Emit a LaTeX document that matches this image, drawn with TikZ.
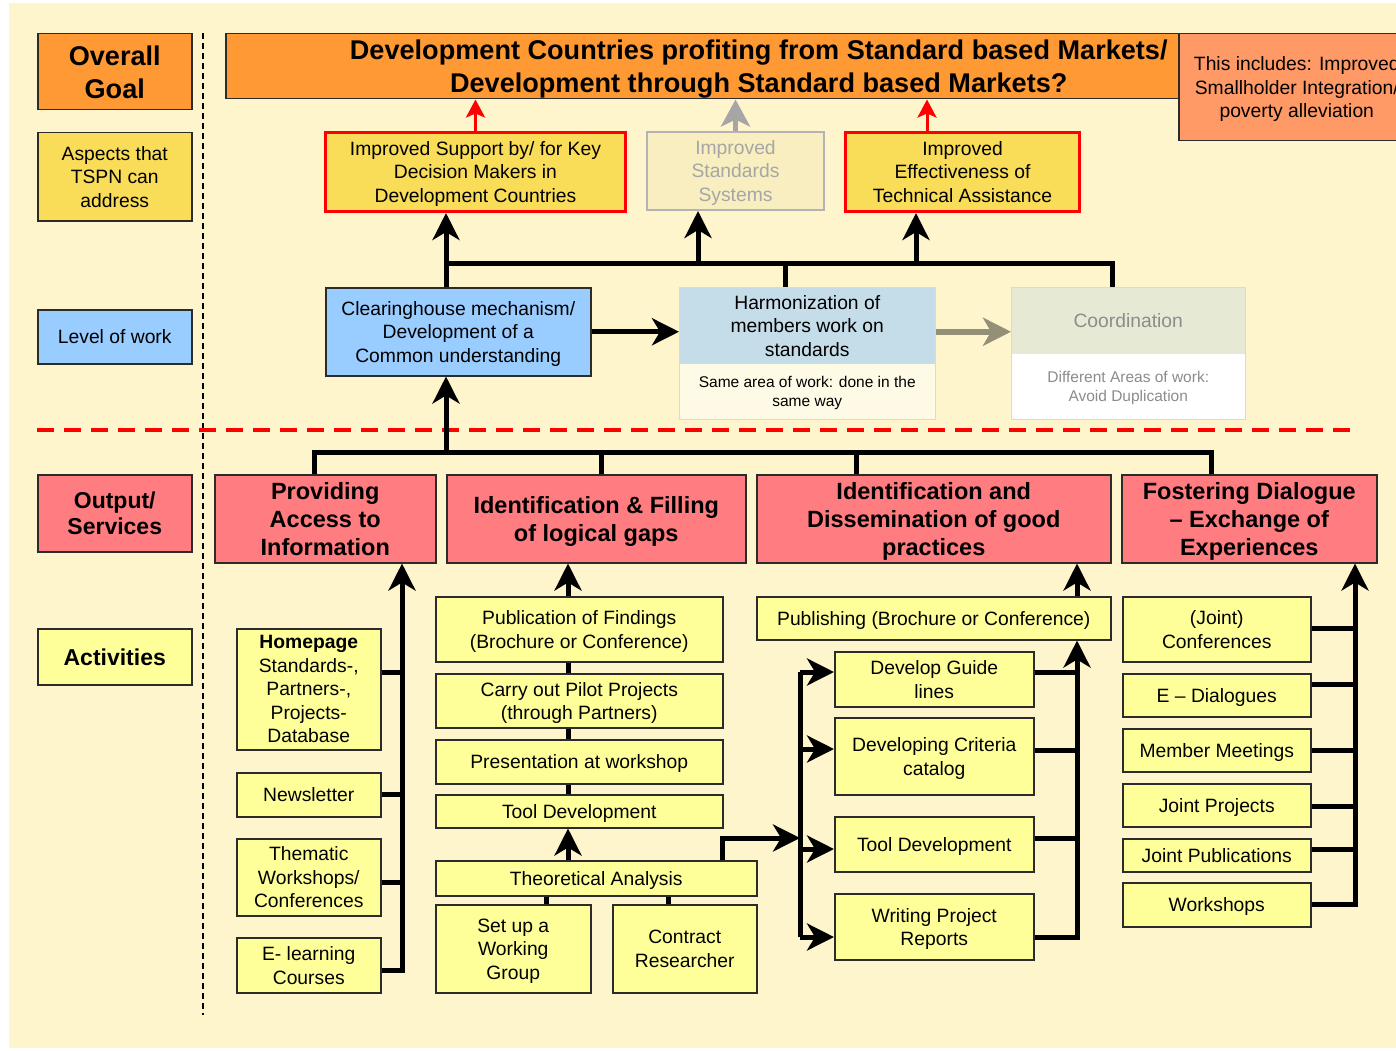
\documentclass[tikz,border=0pt]{standalone}
\usepackage{fontspec}
\setmainfont{Liberation Sans}
\usetikzlibrary{arrows.meta}
\definecolor{cBg}{HTML}{FEF5CD}
\definecolor{cOrange}{HTML}{FF9933}
\definecolor{cGold}{HTML}{F9DD59}
\definecolor{cBlue}{HTML}{99CCFF}
\definecolor{cPink}{HTML}{FF7C80}
\definecolor{cAct}{HTML}{FFFF99}
\definecolor{cSalmon}{HTML}{FF9966}
\definecolor{cPale}{HTML}{F8EEC0}
\definecolor{cPaleLine}{HTML}{B3B3B3}
\definecolor{cPaleText}{HTML}{A6A6A6}
\definecolor{cHarmTop}{HTML}{C5DDE9}
\definecolor{cHarmBot}{HTML}{FFFAE6}
\definecolor{cCoordTop}{HTML}{E6EAD5}
\definecolor{cCoordText}{HTML}{8C8C8C}
\definecolor{cOlive}{HTML}{949078}
\definecolor{cLine}{HTML}{2B2B2B}
\definecolor{cLight}{HTML}{DADADA}
\newcommand\fnorm{\fontsize{19.3}{23.5}\selectfont}
\newcommand\fsmall{\fontsize{15.5}{19}\selectfont}
\newcommand\fout{\fontsize{23.5}{28}\selectfont\bfseries}
\newcommand\fgoal{\fontsize{27.1}{33}\selectfont\bfseries}
\newcommand\flab{\fontsize{23}{26}\selectfont\bfseries}
\begin{document}
\begin{tikzpicture}[x=1pt,y=-1pt,
  box/.style={draw=cLine, line width=1.5pt, inner sep=0pt, align=center, anchor=north west, font=\fnorm, text=black, text depth=0pt},
  act/.style={box, fill=cAct},
  outb/.style={box, fill=cPink, font=\fout},
  aspbox/.style={box, fill=cGold, draw=red, line width=3pt},
  conn/.style={line width=5pt, black},
  arr/.style={-{Stealth[length=27pt,width=27pt,inset=8pt]}},
  redarr/.style={red, line width=3pt, -{Stealth[length=18pt,width=19pt,inset=4pt]}},
  grayarr/.style={cPaleText, line width=5pt, -{Stealth[length=27pt,width=29pt,inset=7pt]}},
  olivearr/.style={cOlive, line width=6pt, -{Stealth[length=28pt,width=28pt,inset=8pt]}},
]
\useasboundingbox (0,0) rectangle (1396,1051);
\begin{scope}
\clip (0,0) rectangle (1396,1051);
\fill[white] (0,0) rectangle (1396,1051);
\fill[cBg] (9,3) rectangle (1396,1048);

% separators
\draw[black, line width=1.2pt, dash pattern=on 6pt off 4pt] (203,33) -- (203,1015);
\draw[red, line width=4pt, dash pattern=on 17pt off 10pt] (37,430) -- (1355,430);

% left labels
\node[box, fill=cOrange, font=\fgoal, minimum width=154pt, minimum height=76pt] (lgoal) at (37,33) {Overall\\Goal};
\node[box, fill=cGold, minimum width=154pt, minimum height=88pt] (lasp) at (37,132) {Aspects that\\TSPN can\\address};
\node[box, fill=cBlue, minimum width=154pt, minimum height=54pt] (llevel) at (37,309) {Level of work};
\node[box, fill=cPink, font=\flab, minimum width=154pt, minimum height=77pt] (lout) at (37,474) {Output/\\Services};
\node[box, fill=cAct, font=\flab, minimum width=154pt, minimum height=56pt] (lact) at (37,628) {Activities};

% goal
\node[box, fill=cOrange, font=\fgoal, minimum width=1066pt, minimum height=65pt] (goal) at (225,33) {Development Countries profiting from Standard based Markets/\\Development through Standard based Markets?};
\node[box, fill=cSalmon, minimum width=236pt, minimum height=107pt] (incl) at (1178,33) {This includes: Improved\\Smallholder Integration/\\poverty alleviation};

% aspects
\node[aspbox, minimum width=300pt, minimum height=79pt] (aspA) at (324,131) {Improved Support by/ for Key\\Decision Makers in\\Development Countries};
\node[box, fill=cPale, draw=cPaleLine, line width=2pt, text=cPaleText, minimum width=177pt, minimum height=78pt] (aspB) at (646,131) {Improved\\Standards\\Systems};
\node[aspbox, minimum width=234pt, minimum height=79pt] (aspC) at (844,131) {Improved\\Effectiveness of\\Technical Assistance};

% level of work
\node[box, fill=cBlue, minimum width=265pt, minimum height=88pt] (clear) at (325,287) {Clearinghouse mechanism/\\Development of a\\Common understanding};
\node[box, draw=none, fill=cHarmTop, minimum width=255pt, minimum height=76pt] (harmt) at (679,287) {Harmonization of\\members work on\\standards};
\node[box, draw=none, fill=cHarmBot, font=\fsmall, minimum width=255pt, minimum height=55pt] (harmb) at (679,363) {Same area of work: done in the\\same way};
\draw[cLight, line width=1pt] (harmt.north west) rectangle (harmb.south east);
\node[box, draw=none, fill=cCoordTop, text=cCoordText, minimum width=233pt, minimum height=66pt] (coordt) at (1011,287) {Coordination};
\node[box, draw=none, fill=white, text=cCoordText, font=\fsmall, minimum width=233pt, minimum height=65pt] (coordb) at (1011,353) {Different Areas of work:\\Avoid Duplication};
\draw[cLight, line width=1pt] (coordt.north west) rectangle (coordb.south east);

% outputs
\node[outb, minimum width=221pt, minimum height=88pt] (prov) at (214,474) {Providing\\Access to\\Information};
\node[outb, minimum width=299pt, minimum height=88pt] (ident) at (446,474) {Identification \& Filling\\of logical gaps};
\node[outb, minimum width=354pt, minimum height=88pt] (dissem) at (756,474) {Identification and\\Dissemination of good\\practices};
\node[outb, minimum width=255pt, minimum height=88pt] (foster) at (1121,474) {Fostering Dialogue\\– Exchange of\\Experiences};

% activities column 1
\node[act, minimum width=144pt, minimum height=121pt] (home) at (236,628) {{\bfseries Homepage}\\Standards-,\\Partners-,\\Projects-\\Database};
\node[act, minimum width=144pt, minimum height=44pt] (news) at (236,772) {Newsletter};
\node[act, minimum width=144pt, minimum height=77pt] (thema) at (236,838) {Thematic\\Workshops/\\Conferences};
\node[act, minimum width=144pt, minimum height=55pt] (elearn) at (236,937) {E- learning\\Courses};

% activities column 2
\node[act, minimum width=287pt, minimum height=65pt] (pubf) at (435,596) {Publication of Findings\\(Brochure or Conference)};
\node[act, minimum width=287pt, minimum height=54pt] (carry) at (435,673) {Carry out Pilot Projects\\(through Partners)};
\node[act, minimum width=287pt, minimum height=44pt] (pres) at (435,739) {Presentation at workshop};
\node[act, minimum width=287pt, minimum height=33pt] (tooltwo) at (435,794) {Tool Development};
\node[act, minimum width=321pt, minimum height=35pt] (theo) at (435,860) {Theoretical Analysis};
\node[act, minimum width=155pt, minimum height=88pt] (setup) at (435,904) {Set up a\\Working\\Group};
\node[act, minimum width=144pt, minimum height=88pt] (contr) at (612,904) {Contract\\Researcher};

% activities column 3
\node[act, minimum width=354pt, minimum height=43pt] (publ) at (756,596) {Publishing (Brochure or Conference)};
\node[act, minimum width=199pt, minimum height=55pt] (guide) at (834,651) {Develop Guide\\lines};
\node[act, minimum width=199pt, minimum height=77pt] (crit) at (834,717) {Developing Criteria\\catalog};
\node[act, minimum width=199pt, minimum height=55pt] (toolthree) at (834,816) {Tool Development};
\node[act, minimum width=199pt, minimum height=66pt] (writ) at (834,893) {Writing Project\\Reports};

% activities column 4
\node[act, minimum width=188pt, minimum height=65pt] (jconf) at (1122,596) {(Joint)\\Conferences};
\node[act, minimum width=188pt, minimum height=43pt] (edia) at (1122,673) {E – Dialogues};
\node[act, minimum width=188pt, minimum height=43pt] (memb) at (1122,728) {Member Meetings};
\node[act, minimum width=188pt, minimum height=43pt] (jproj) at (1122,783) {Joint Projects};
\node[act, minimum width=188pt, minimum height=33pt] (jpub) at (1122,838) {Joint Publications};
\node[act, minimum width=188pt, minimum height=44pt] (wshop) at (1122,882) {Workshops};

% ---- connectors ----
% to goal
\coordinate (xc) at (927,0);
\draw[redarr] (aspA.north) -- (aspA.north |- goal.south);
\draw[grayarr] (aspB.north) -- (aspB.north |- goal.south);
\draw[redarr] (aspC.north -| xc) -- (goal.south -| xc);

% level to aspects
\coordinate (j1) at (446,263);
\coordinate (j2) at (698,263);
\coordinate (j3) at (916,263);
\coordinate (j4) at (785,263);
\coordinate (j5) at (1112,263);
\draw[conn] (j1) -- (j5) -- (j5 |- coordt.north);
\draw[conn] (j4) -- (j4 |- harmt.north);
\draw[conn, arr] (j1 |- clear.north) -- (j1 |- aspA.south);
\draw[conn, arr] (j2) -- (j2 |- aspB.south);
\draw[conn, arr] (j3) -- (j3 |- aspC.south);
\draw[conn, arr] (clear.east) -- (clear.east -| harmt.west);
\draw[olivearr] (harmt.east |- clear.east) -- (coordt.west |- clear.east);

% outputs to level
\coordinate (o0) at (446,452);
\coordinate (o1) at (314,452);
\coordinate (o2) at (601,452);
\coordinate (o3) at (856,452);
\coordinate (o4) at (1211,452);
\draw[conn] (o1 |- prov.north) -- (o1) -- (o4) -- (o4 |- foster.north);
\draw[conn] (o2) -- (o2 |- ident.north);
\draw[conn] (o3) -- (o3 |- dissem.north);
\draw[conn, arr] (o0) -- (o0 |- clear.south);

% column 1
\coordinate (b1) at (402,672);
\coordinate (b2) at (402,794);
\coordinate (b3) at (402,882);
\coordinate (b4) at (402,970);
\draw[conn, arr] (elearn.east |- b4) -- (b4) -- (b4 |- prov.south);
\draw[conn] (home.east |- b1) -- (b1);
\draw[conn] (news.east |- b2) -- (b2);
\draw[conn] (thema.east |- b3) -- (b3);

% column 2
\coordinate (c2) at (568,0);
\coordinate (c2a) at (546,0);
\coordinate (c2b) at (668,0);
\draw[conn, arr] (pubf.north -| c2) -- (ident.south -| c2);
\draw[conn] (pubf.south -| c2) -- (carry.north -| c2);
\draw[conn] (carry.south -| c2) -- (pres.north -| c2);
\draw[conn] (pres.south -| c2) -- (tooltwo.north -| c2);
\draw[conn, arr] (theo.north -| c2) -- (tooltwo.south -| c2);
\draw[conn] (setup.north -| c2a) -- (theo.south -| c2a);
\draw[conn] (contr.north -| c2b) -- (theo.south -| c2b);
\coordinate (t1) at (722,838);
\coordinate (t2) at (800,838);
\draw[conn, arr] (theo.north -| t1) -- (t1) -- (t2);

% column 3
\coordinate (l1) at (800,672);
\coordinate (l2) at (800,749);
\coordinate (l3) at (800,849);
\coordinate (l4) at (800,937);
\draw[conn] (l1) -- (l4);
\draw[conn, arr] (l1) -- (l1 -| guide.west);
\draw[conn, arr] (l2) -- (l2 -| crit.west);
\draw[conn, arr] (l3) -- (l3 -| toolthree.west);
\draw[conn, arr] (l4) -- (l4 -| writ.west);
\coordinate (r1) at (1077,672);
\coordinate (r2) at (1077,750);
\coordinate (r3) at (1077,838);
\coordinate (r4) at (1077,937);
\draw[conn, arr] (writ.east |- r4) -- (r4) -- (r4 |- publ.south);
\draw[conn] (guide.east |- r1) -- (r1);
\draw[conn] (crit.east |- r2) -- (r2);
\draw[conn] (toolthree.east |- r3) -- (r3);
\draw[conn, arr] (publ.north -| r4) -- (dissem.south -| r4);

% column 4
\coordinate (f1) at (1355,628);
\coordinate (f2) at (1355,684);
\coordinate (f3) at (1355,750);
\coordinate (f4) at (1355,806);
\coordinate (f5) at (1355,849);
\coordinate (f6) at (1355,904);
\draw[conn, arr] (wshop.east |- f6) -- (f6) -- (f6 |- foster.south);
\draw[conn] (jconf.east |- f1) -- (f1);
\draw[conn] (edia.east |- f2) -- (f2);
\draw[conn] (memb.east |- f3) -- (f3);
\draw[conn] (jproj.east |- f4) -- (f4);
\draw[conn] (jpub.east |- f5) -- (f5);
\end{scope}
\end{tikzpicture}
\end{document}
